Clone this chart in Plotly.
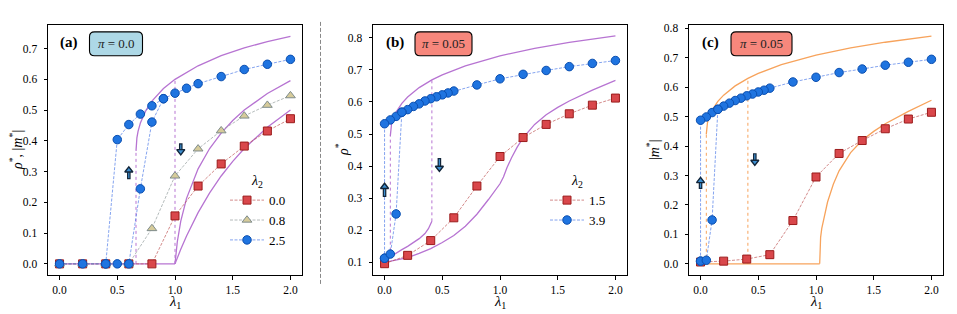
import plotly.graph_objects as go

# browser body margin is 8px: figure placed at (8, 8); it fills the rest of the 957x314 window
OFF = 8
W, H = 957 - OFF, 314 - OFF

# ---------------- data: panel (a) ----------------
a_x_sq = [0, 0.2, 0.4, 0.6, 0.8, 1.0, 1.2, 1.4, 1.6, 1.8, 2.0]
a_y_sq = [0, 0, 0, 0, 0, 0.156, 0.253, 0.325, 0.383, 0.432, 0.472]
a_x_tri = [0, 0.2, 0.4, 0.6, 0.8, 1.0, 1.2, 1.4, 1.6, 1.8, 2.0]
a_y_tri = [0, 0, 0, 0, 0.115, 0.286, 0.374, 0.433, 0.481, 0.516, 0.547]
a_x_circ_fw = [0, 0.2, 0.4, 0.5, 0.6, 0.7, 0.8, 0.9, 1.0, 1.1, 1.2, 1.4, 1.6, 1.8, 2.0]
a_y_circ_fw = [0, 0, 0, 0, 0, 0.244, 0.461, 0.537, 0.555, 0.571, 0.586, 0.609, 0.632, 0.649, 0.665]
a_x_circ_bw = [0.9, 0.8, 0.7, 0.6, 0.5, 0.4]
a_y_circ_bw = [0.537, 0.514, 0.487, 0.453, 0.404, 0]

# theory (a)
ta_zero_x = [0, 1.0]
ta_zero_y = [0, 0]
ta_up_x = [0.6623, 0.665, 0.67, 0.68, 0.7, 0.75, 0.8, 0.9, 1.0, 1.2, 1.4, 1.6, 1.8, 2.0]
ta_up_y = [0.3675, 0.393, 0.410, 0.431, 0.458, 0.500, 0.529, 0.570, 0.600, 0.644, 0.677, 0.702, 0.723, 0.740]
ta_mid_x = [1.0, 1.02, 1.05, 1.1, 1.2, 1.3, 1.4, 1.5, 1.6, 1.8, 2.0]
ta_mid_y = [0, 0.072, 0.139, 0.213, 0.309, 0.375, 0.425, 0.466, 0.500, 0.554, 0.596]
ta_low_x = [1.0, 1.02, 1.05, 1.1, 1.2, 1.3, 1.4, 1.5, 1.6, 1.8, 2.0]
ta_low_y = [0, 0.0196, 0.0476, 0.0909, 0.1667, 0.2308, 0.2857, 0.3333, 0.375, 0.4444, 0.5]
ta_vx = [0.6623, 1.0]
ta_vtop = [0.3675, 0.600]
ta_vbot = [0, 0]

# ---------------- data: panel (b) ----------------
b_x_sq = [0, 0.2, 0.4, 0.6, 0.8, 1.0, 1.2, 1.4, 1.6, 1.8, 2.0]
b_y_sq = [0.096, 0.122, 0.168, 0.239, 0.338, 0.430, 0.489, 0.530, 0.563, 0.590, 0.612]
b_x_circ_fw = [0, 0.05, 0.1, 0.15]
b_y_circ_fw = [0.113, 0.126, 0.251, 0.568]
b_x_circ_bw = [2.0, 1.8, 1.6, 1.4, 1.2, 1.0, 0.8, 0.6, 0.55, 0.5, 0.45, 0.4, 0.35, 0.3,
               0.25, 0.2, 0.15, 0.1, 0.05, 0.0, 0.0]
b_y_circ_bw = [0.729, 0.720, 0.710, 0.698, 0.686, 0.672, 0.653, 0.634, 0.628, 0.622, 0.616,
               0.610, 0.603, 0.594, 0.586, 0.576, 0.568, 0.555, 0.544, 0.532, 0.113]

tb_up_x = [0.0497, 0.055, 0.06, 0.07, 0.08, 0.1, 0.15, 0.2, 0.3, 0.41, 0.5, 0.7, 1.0, 1.3, 1.6, 2.0]
tb_up_y = [0.4936, 0.5192, 0.5289, 0.5424, 0.5526, 0.5683, 0.5956, 0.6154, 0.6447, 0.6686,
           0.6845, 0.7126, 0.7436, 0.767, 0.7856, 0.8055]
tb_lo39_x = [0, 0.05, 0.1, 0.15, 0.2, 0.25, 0.3, 0.35, 0.38, 0.41]
tb_lo39_y = [0.106, 0.118, 0.130, 0.140, 0.150, 0.161, 0.174, 0.190, 0.205, 0.228]
tb_15_x = [0, 0.1, 0.2, 0.3, 0.4, 0.5, 0.6, 0.7, 0.8, 0.9, 1.0, 1.03, 1.06, 1.1, 1.15, 1.2,
           1.3, 1.4, 1.5, 1.6, 1.8, 2.0]
tb_15_y = [0.100, 0.107, 0.115, 0.128, 0.143, 0.162, 0.184, 0.213, 0.250, 0.296, 0.345, 0.366,
           0.395, 0.426, 0.460, 0.488, 0.530, 0.560, 0.583, 0.603, 0.637, 0.667]
tb_vx = [0.05, 0.41]
tb_vtop = [0.4936, 0.6686]
tb_vbot = [0.118, 0.228]

# ---------------- data: panel (c) ----------------
c_x_sq = [0, 0.2, 0.4, 0.6, 0.8, 1.0, 1.2, 1.4, 1.6, 1.8, 2.0]
c_y_sq = [0.006, 0.009, 0.016, 0.031, 0.147, 0.295, 0.375, 0.419, 0.459, 0.492, 0.515]
c_x_circ_fw = [0, 0.05, 0.1, 0.15]
c_y_circ_fw = [0.009, 0.012, 0.149, 0.525]
c_x_circ_bw = [2.0, 1.8, 1.6, 1.4, 1.2, 1.0, 0.8, 0.6, 0.55, 0.5, 0.45, 0.4, 0.35, 0.3,
               0.25, 0.2, 0.15, 0.1, 0.05, 0.0, 0.0]
c_y_circ_bw = [0.695, 0.685, 0.675, 0.662, 0.650, 0.634, 0.618, 0.597, 0.590, 0.584, 0.577,
               0.571, 0.563, 0.555, 0.546, 0.536, 0.525, 0.514, 0.499, 0.488, 0.009]

tc_zero_x = [0, 1.032]
tc_zero_y = [0, 0]
tc_up_x = tb_up_x
tc_up_y = [0.44, 0.4686, 0.4793, 0.4942, 0.5054, 0.5225, 0.552, 0.5733, 0.6047, 0.6301,
           0.6469, 0.6766, 0.7092, 0.7337, 0.7531, 0.7738]
tc_lo_x = [1.032, 1.034, 1.04, 1.05, 1.06, 1.08, 1.1, 1.15, 1.2, 1.3, 1.4, 1.5, 1.6, 1.8, 2.0]
tc_lo_y = [0, 0.05, 0.09, 0.12, 0.14, 0.18, 0.21, 0.27, 0.316, 0.378, 0.42, 0.45, 0.476, 0.518, 0.556]
tc_vx = [0.05, 0.41]
tc_vtop = [0.44, 0.6301]
tc_vbot = [0, 0]

legend_a = ["0.0", "0.8", "2.5"]
legend_b = ["1.5", "3.9"]

# ---------------- styles ----------------
FONT = "Liberation Serif, DejaVu Serif, serif"
PURPLE = "#b774d2"
ORANGE = "#f7a35c"
RED_F, RED_E = "#d9474b", "#9b1c1c"
BLUE_F, BLUE_E = "#1f74e0", "#0b4fb0"
TRI_F, TRI_E = "#d6cb9a", "#7f8c8c"
RED_L = "rgba(190,80,80,0.75)"
BLUE_L = "rgba(60,110,230,0.7)"
GREY_L = "rgba(150,160,160,0.8)"
ARROW_D, ARROW_B = "#13263a", "#3d8fd0"

fig = go.Figure()


def theory(x, y, ax, color, width=1.3):
    fig.add_trace(go.Scatter(x=x, y=y, mode="lines", line=dict(color=color, width=width),
                             xaxis="x" + ax, yaxis="y" + ax, showlegend=False, hoverinfo="skip"))


def vdotted(xs, bots, tops, ax, color):
    for xv, b, t in zip(xs, bots, tops):
        fig.add_trace(go.Scatter(x=[xv, xv], y=[b, t], mode="lines",
                                 line=dict(color=color, width=1, dash="dot"),
                                 xaxis="x" + ax, yaxis="y" + ax, showlegend=False, hoverinfo="skip"))


def data(x, y, ax, sym, fill, edge, lcol, size, name=None, legend=None):
    fig.add_trace(go.Scatter(
        x=x, y=y, mode="lines+markers", xaxis="x" + ax, yaxis="y" + ax,
        line=dict(color=lcol, width=0.9, dash="3px,1.5px"),
        marker=dict(symbol=sym, size=size, color=fill, line=dict(color=edge, width=1)),
        name=name if name else "", showlegend=name is not None,
        legend=legend if legend else "legend"))


# panel a
theory(ta_zero_x, ta_zero_y, "", PURPLE)
theory(ta_up_x, ta_up_y, "", PURPLE)
theory(ta_mid_x, ta_mid_y, "", PURPLE)
theory(ta_low_x, ta_low_y, "", PURPLE)
vdotted(ta_vx, ta_vbot, ta_vtop, "", PURPLE)
data(a_x_sq, a_y_sq, "", "square", RED_F, RED_E, RED_L, 8, legend_a[0], "legend")
data(a_x_tri, a_y_tri, "", "triangle-up", TRI_F, TRI_E, GREY_L, 8.5, legend_a[1], "legend")
data(a_x_circ_bw, a_y_circ_bw, "", "circle", BLUE_F, BLUE_E, BLUE_L, 8.5)
data(a_x_circ_fw, a_y_circ_fw, "", "circle", BLUE_F, BLUE_E, BLUE_L, 8.5, legend_a[2], "legend")

# panel b
theory(tb_up_x, tb_up_y, "2", PURPLE)
theory(tb_lo39_x, tb_lo39_y, "2", PURPLE)
theory(tb_15_x, tb_15_y, "2", PURPLE)
vdotted(tb_vx, tb_vbot, tb_vtop, "2", PURPLE)
data(b_x_sq, b_y_sq, "2", "square", RED_F, RED_E, RED_L, 8, legend_b[0], "legend2")
data(b_x_circ_bw, b_y_circ_bw, "2", "circle", BLUE_F, BLUE_E, BLUE_L, 8.5)
data(b_x_circ_fw, b_y_circ_fw, "2", "circle", BLUE_F, BLUE_E, BLUE_L, 8.5, legend_b[1], "legend2")

# panel c
theory(tc_zero_x, tc_zero_y, "3", ORANGE)
theory(tc_up_x, tc_up_y, "3", ORANGE)
theory(tc_lo_x, tc_lo_y, "3", ORANGE)
vdotted(tc_vx, tc_vbot, tc_vtop, "3", ORANGE)
data(c_x_sq, c_y_sq, "3", "square", RED_F, RED_E, RED_L, 8)
data(c_x_circ_bw, c_y_circ_bw, "3", "circle", BLUE_F, BLUE_E, BLUE_L, 8.5)
data(c_x_circ_fw, c_y_circ_fw, "3", "circle", BLUE_F, BLUE_E, BLUE_L, 8.5)


# ---------------- layout ----------------
def px(x):
    return (x - OFF) / W


def py(y):
    return 1 - (y - OFF) / H


panels = {"": (48, 302), "2": (373, 627), "3": (689, 943)}
YTOP, YBOT = 23, 275
ydom = [py(YBOT), py(YTOP)]
yranges = {"": [-0.037, 0.777], "2": [0.06, 0.84], "3": [-0.039, 0.812]}
ytick = {"": [0, 0.1, 0.2, 0.3, 0.4, 0.5, 0.6, 0.7],
         "2": [0.1, 0.2, 0.3, 0.4, 0.5, 0.6, 0.7, 0.8],
         "3": [0, 0.1, 0.2, 0.3, 0.4, 0.5, 0.6, 0.7, 0.8]}

# arrows: (panel, x, tail y, head y)
arrows = [("", 0.60, 0.275, 0.314), ("", 1.05, 0.392, 0.356),
          ("2", 0.0, 0.304, 0.345), ("2", 0.475, 0.425, 0.385),
          ("3", 0.0, 0.254, 0.292), ("3", 0.47, 0.376, 0.336)]
for k, xx, yt, yh in arrows:
    r0, r1 = yranges[k]
    per_px = (r1 - r0) / (YBOT - YTOP)
    sgn = 1 if yh > yt else -1
    neck = yh - sgn * 4 * per_px
    fig.add_trace(go.Scatter(x=[xx, xx], y=[yt, neck], mode="lines",
                             line=dict(color=ARROW_D, width=3.6), xaxis="x" + k, yaxis="y" + k,
                             showlegend=False, hoverinfo="skip"))
    fig.add_trace(go.Scatter(x=[xx, xx], y=[yt + sgn * 1.2 * per_px, neck], mode="lines",
                             line=dict(color=ARROW_B, width=1.2), xaxis="x" + k, yaxis="y" + k,
                             showlegend=False, hoverinfo="skip"))
    fig.add_trace(go.Scatter(x=[xx], y=[yh - sgn * 3 * per_px], mode="markers",
                             marker=dict(symbol="triangle-up" if sgn > 0 else "triangle-down",
                                         size=7, color=ARROW_B, line=dict(color=ARROW_D, width=1.4)),
                             xaxis="x" + k, yaxis="y" + k, showlegend=False, hoverinfo="skip"))

axcommon = dict(showgrid=False, zeroline=False, showline=True, linecolor="black", linewidth=1,
                mirror=True, ticks="outside", ticklen=3.5, tickwidth=0.8, tickcolor="black",
                tickfont=dict(family=FONT, size=11.5, color="black"))

layout = dict(width=W, height=H, margin=dict(l=0, r=0, t=0, b=0),
              paper_bgcolor="white", plot_bgcolor="white", showlegend=True)
for k, (l, r) in panels.items():
    layout["xaxis" + k] = dict(domain=[px(l), px(r)], range=[-0.1, 2.1], anchor="y" + k,
                               tickvals=[0, 0.5, 1.0, 1.5, 2.0],
                               ticktext=["0.0", "0.5", "1.0", "1.5", "2.0"], **axcommon)
    layout["yaxis" + k] = dict(domain=ydom, range=yranges[k], anchor="x" + k,
                               tickvals=ytick[k], ticktext=["%.1f" % v for v in ytick[k]],
                               ticklabelstandoff=4, **axcommon)

leg_common = dict(bgcolor="rgba(0,0,0,0)", font=dict(family=FONT, size=13, color="black"),
                  xanchor="left", yanchor="top", tracegroupgap=0, itemwidth=34,
                  title=dict(text="<i>λ</i><sub>2</sub>", side="top center",
                             font=dict(family=FONT, size=14, color="black")))
layout["legend"] = dict(x=px(225), y=py(166), **leg_common)
layout["legend2"] = dict(x=px(545), y=py(166), **leg_common)

annotations = []
shapes = []


def rounded(x0, y0, x1, y1, r, fill):
    X0, X1 = px(x0), px(x1)
    Y0, Y1 = py(y0), py(y1)
    rx, ry = r / W, r / H
    path = (f"M {X0+rx},{Y0} L {X1-rx},{Y0} Q {X1},{Y0} {X1},{Y0-ry} "
            f"L {X1},{Y1+ry} Q {X1},{Y1} {X1-rx},{Y1} L {X0+rx},{Y1} "
            f"Q {X0},{Y1} {X0},{Y1+ry} L {X0},{Y0-ry} Q {X0},{Y0} {X0+rx},{Y0} Z")
    shapes.append(dict(type="path", path=path, xref="paper", yref="paper",
                       fillcolor=fill, line=dict(color="black", width=1.1)))


def label(x, y, text, size, angle=0, color="black", yanchor="middle"):
    annotations.append(dict(x=px(x), y=py(y), xref="paper", yref="paper", text=text,
                            xanchor="center", yanchor=yanchor, textangle=angle, borderpad=0,
                            showarrow=False, font=dict(family=FONT, size=size, color=color)))


boxes = [(69, "(a)", 89.5, 142.5, "#add8e6", "<i>π</i> = 0.0"),
         (395, "(b)", 415, 472, "#f7877c", "<i>π</i> = 0.05"),
         (710, "(c)", 731, 792, "#f7877c", "<i>π</i> = 0.05")]
for cx, lab, bx0, bx1, fill, txt in boxes:
    label(cx, 41, "<b>" + lab + "</b>", 15)
    rounded(bx0, 30, bx1, 54, 5, fill)
    label((bx0 + bx1) / 2, 42, txt, 13, color="#222")

# axis titles
ytitles = [(16, "<i>ρ</i><sup>*</sup>, |<i>m</i><sup>*</sup>|"), (342, "<i>ρ</i><sup>*</sup>"),
           (653, "|<i>m</i><sup>*</sup>|")]
for xx, t in ytitles:
    label(xx, 149, t, 14, angle=-90)
for k, (l, r) in panels.items():
    label((l + r) / 2, 302, "<i>λ</i><sub>1</sub>", 14.5)

# separator dashed line
shapes.append(dict(type="line", xref="paper", yref="paper", x0=px(320.5), x1=px(320.5),
                   y0=py(20), y1=py(285), line=dict(color="#888", width=1, dash="4px,2px")))

layout["annotations"] = annotations
layout["shapes"] = shapes
fig.update_layout(**layout)
fig.write_html("out.html")
